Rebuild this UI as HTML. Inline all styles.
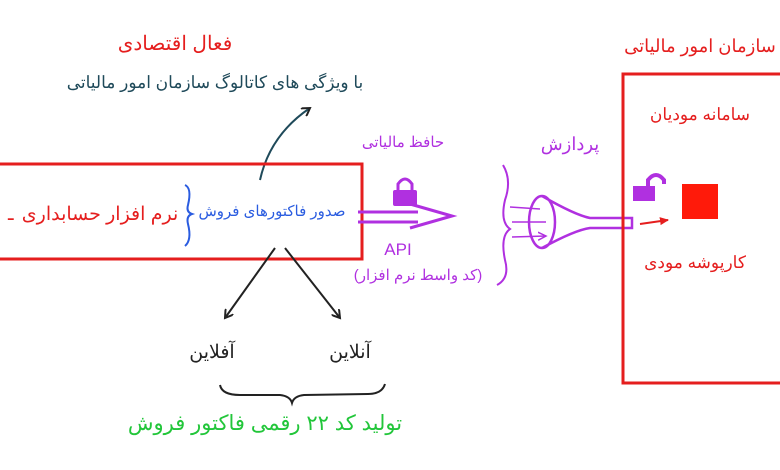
<!DOCTYPE html>
<html><head><meta charset="utf-8"><style>
html,body{margin:0;padding:0;background:#fff;}
svg{display:block;}
text{font-family:"Liberation Sans","Noto Sans CJK SC",sans-serif;}
</style></head><body>
<svg width="780" height="470" viewBox="0 0 780 470" xmlns="http://www.w3.org/2000/svg">
<defs>
<marker id="ak" markerWidth="10" markerHeight="10" refX="8" refY="5" orient="auto" markerUnits="userSpaceOnUse"><path d="M0,0 L8,5 L0,10" fill="none" stroke="#222" stroke-width="2"/></marker>
<marker id="ar" markerWidth="10" markerHeight="10" refX="8" refY="5" orient="auto" markerUnits="userSpaceOnUse"><path d="M0,1 L9,5 L0,9 Z" fill="#e51e1e"/></marker>
<marker id="ap" markerWidth="10" markerHeight="10" refX="8" refY="5" orient="auto" markerUnits="userSpaceOnUse"><path d="M0,1 L8,5 L0,9" fill="none" stroke="#b030e0" stroke-width="1.5"/></marker>
</defs>
<text x="175" y="50" font-size="20" fill="#e51e1e" text-anchor="middle" direction="rtl">فعال اقتصادی</text>
<text x="215" y="88" font-size="17" fill="#1f4a5a" text-anchor="middle" direction="rtl">با ویژگی های کاتالوگ سازمان امور مالیاتی</text>
<path d="M260,180 Q270,135 310,108" fill="none" stroke="#1f4a5a" stroke-width="2" marker-end="url(#ak)"/>
<rect x="-5" y="164" width="367" height="95" fill="none" stroke="#e51e1e" stroke-width="3"/>
<text x="100" y="220" font-size="19" fill="#e51e1e" text-anchor="middle" direction="rtl">نرم افزار حسابداری</text>
<text x="8" y="220" font-size="19" fill="#e51e1e">ـ</text>
<path d="M185,185 Q192,188 188,205 Q186,212 192,214 Q186,216 188,224 Q192,240 185,246" fill="none" stroke="#2a5ce0" stroke-width="2"/>
<text x="272" y="216" font-size="15" fill="#2a5ce0" text-anchor="middle" direction="rtl">صدور فاکتورهای فروش</text>
<path d="M275,248 L225,318" stroke="#222" stroke-width="2" marker-end="url(#ak)"/>
<path d="M285,248 L340,318" stroke="#222" stroke-width="2" marker-end="url(#ak)"/>
<text x="212" y="358" font-size="19" fill="#222" text-anchor="middle" direction="rtl">آفلاین</text>
<text x="350" y="358" font-size="19" fill="#222" text-anchor="middle" direction="rtl">آنلاین</text>
<path d="M220,385 Q222,395 240,395 L280,395 Q290,396 292,403 Q294,396 304,395 L368,394 Q382,394 385,384" fill="none" stroke="#222" stroke-width="2"/>
<text x="265" y="430" font-size="21" fill="#22c63a" text-anchor="middle" direction="rtl">تولید کد ۲۲ رقمی فاکتور فروش</text>
<text x="403" y="147" font-size="15" fill="#b030e0" text-anchor="middle" direction="rtl">حافظ مالیاتی</text>
<rect x="393" y="190" width="24" height="16" rx="2" fill="#b030e0"/>
<path d="M398,190 V184 Q405,174 412,184 V190" fill="none" stroke="#b030e0" stroke-width="3"/>
<path d="M358,212 L418,212 M358,222 L418,222" stroke="#b030e0" stroke-width="3"/>
<path d="M410,204 L452,216 L410,228" fill="none" stroke="#b030e0" stroke-width="3"/>
<text x="398" y="255" font-size="17" fill="#b030e0" text-anchor="middle">API</text>
<text x="418" y="280" font-size="15" fill="#b030e0" text-anchor="middle" direction="rtl">(کد واسط نرم افزار)</text>
<path d="M503,165 Q512,180 505,200 Q500,222 510,229 Q500,236 505,260 Q510,278 497,285" fill="none" stroke="#b030e0" stroke-width="2"/>
<text x="570" y="150" font-size="18" fill="#b030e0" text-anchor="middle" direction="rtl">پردازش</text>
<ellipse cx="542" cy="222" rx="13" ry="26" fill="none" stroke="#b030e0" stroke-width="2.5"/>
<path d="M542,196 Q575,215 590,218 L632,218 L632,228 L590,228 Q575,230 542,248" fill="none" stroke="#b030e0" stroke-width="2.5"/>
<path d="M510,207 L540,209 M512,222 L546,222 M512,237 L546,236" stroke="#b030e0" stroke-width="1.5" marker-end="url(#ap)"/>
<rect x="623" y="74" width="170" height="309" fill="none" stroke="#e51e1e" stroke-width="3"/>
<text x="700" y="52" font-size="18" fill="#e51e1e" text-anchor="middle" direction="rtl">سازمان امور مالیاتی</text>
<text x="700" y="120" font-size="17" fill="#e51e1e" text-anchor="middle" direction="rtl">سامانه مودیان</text>
<rect x="633" y="186" width="22" height="15" fill="#b030e0"/>
<path d="M648,186 V180 Q656,170 664,180 V184" fill="none" stroke="#b030e0" stroke-width="4"/>
<rect x="682" y="184" width="36" height="35" fill="#ff1a0a"/>
<path d="M640,224 L668,220" stroke="#e51e1e" stroke-width="2" marker-end="url(#ar)"/>
<text x="695" y="268" font-size="17" fill="#e51e1e" text-anchor="middle" direction="rtl">کارپوشه مودی</text>
</svg>
</body></html>
